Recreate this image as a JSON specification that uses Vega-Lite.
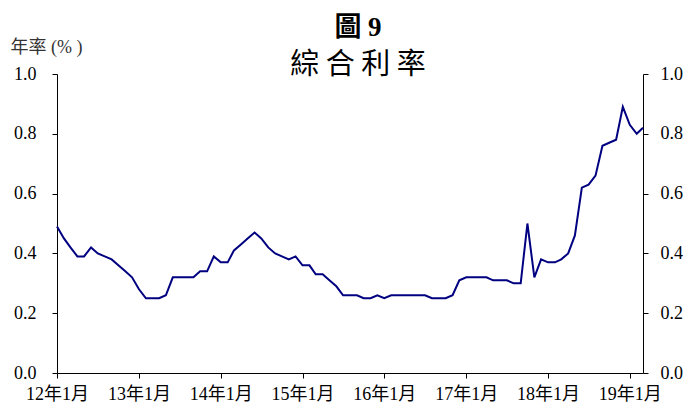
{
  "$schema": "https://vega.github.io/schema/vega-lite/v6.json",
  "width": 586,
  "height": 299,
  "autosize": {"type": "none"},
  "padding": {"left": 57, "top": 74, "right": 47, "bottom": 35},
  "background": "white",
  "title": {
    "text": "圖 9",
    "subtitle": "綜 合 利 率",
    "anchor": "middle",
    "dx": 8,
    "dy": 35,
    "offset": -8,
    "font": "Liberation Serif, Noto Sans CJK TC",
    "fontSize": 27,
    "fontWeight": "bold",
    "color": "black",
    "subtitleFont": "Noto Sans CJK TC",
    "subtitleFontSize": 29,
    "subtitleFontWeight": "normal",
    "subtitleColor": "black",
    "subtitlePadding": 9
  },
  "data": {
    "values": [
      {"d": "2012-01-01", "v": 0.49}, {"d": "2012-02-01", "v": 0.45}, {"d": "2012-03-01", "v": 0.42}, {"d": "2012-04-01", "v": 0.39},
      {"d": "2012-05-01", "v": 0.39}, {"d": "2012-06-01", "v": 0.42}, {"d": "2012-07-01", "v": 0.40}, {"d": "2012-08-01", "v": 0.39},
      {"d": "2012-09-01", "v": 0.38}, {"d": "2012-10-01", "v": 0.36}, {"d": "2012-11-01", "v": 0.34}, {"d": "2012-12-01", "v": 0.32},
      {"d": "2013-01-01", "v": 0.28}, {"d": "2013-02-01", "v": 0.25}, {"d": "2013-03-01", "v": 0.25}, {"d": "2013-04-01", "v": 0.25},
      {"d": "2013-05-01", "v": 0.26}, {"d": "2013-06-01", "v": 0.32}, {"d": "2013-07-01", "v": 0.32}, {"d": "2013-08-01", "v": 0.32},
      {"d": "2013-09-01", "v": 0.32}, {"d": "2013-10-01", "v": 0.34}, {"d": "2013-11-01", "v": 0.34}, {"d": "2013-12-01", "v": 0.39},
      {"d": "2014-01-01", "v": 0.37}, {"d": "2014-02-01", "v": 0.37}, {"d": "2014-03-01", "v": 0.41}, {"d": "2014-04-01", "v": 0.43},
      {"d": "2014-05-01", "v": 0.45}, {"d": "2014-06-01", "v": 0.47}, {"d": "2014-07-01", "v": 0.45}, {"d": "2014-08-01", "v": 0.42},
      {"d": "2014-09-01", "v": 0.40}, {"d": "2014-10-01", "v": 0.39}, {"d": "2014-11-01", "v": 0.38}, {"d": "2014-12-01", "v": 0.39},
      {"d": "2015-01-01", "v": 0.36}, {"d": "2015-02-01", "v": 0.36}, {"d": "2015-03-01", "v": 0.33}, {"d": "2015-04-01", "v": 0.33},
      {"d": "2015-05-01", "v": 0.31}, {"d": "2015-06-01", "v": 0.29}, {"d": "2015-07-01", "v": 0.26}, {"d": "2015-08-01", "v": 0.26},
      {"d": "2015-09-01", "v": 0.26}, {"d": "2015-10-01", "v": 0.25}, {"d": "2015-11-01", "v": 0.25}, {"d": "2015-12-01", "v": 0.26},
      {"d": "2016-01-01", "v": 0.25}, {"d": "2016-02-01", "v": 0.26}, {"d": "2016-03-01", "v": 0.26}, {"d": "2016-04-01", "v": 0.26},
      {"d": "2016-05-01", "v": 0.26}, {"d": "2016-06-01", "v": 0.26}, {"d": "2016-07-01", "v": 0.26}, {"d": "2016-08-01", "v": 0.25},
      {"d": "2016-09-01", "v": 0.25}, {"d": "2016-10-01", "v": 0.25}, {"d": "2016-11-01", "v": 0.26}, {"d": "2016-12-01", "v": 0.31},
      {"d": "2017-01-01", "v": 0.32}, {"d": "2017-02-01", "v": 0.32}, {"d": "2017-03-01", "v": 0.32}, {"d": "2017-04-01", "v": 0.32},
      {"d": "2017-05-01", "v": 0.31}, {"d": "2017-06-01", "v": 0.31}, {"d": "2017-07-01", "v": 0.31}, {"d": "2017-08-01", "v": 0.30},
      {"d": "2017-09-01", "v": 0.30}, {"d": "2017-10-01", "v": 0.50}, {"d": "2017-11-01", "v": 0.32}, {"d": "2017-12-01", "v": 0.38},
      {"d": "2018-01-01", "v": 0.37}, {"d": "2018-02-01", "v": 0.37}, {"d": "2018-03-01", "v": 0.38}, {"d": "2018-04-01", "v": 0.40},
      {"d": "2018-05-01", "v": 0.46}, {"d": "2018-06-01", "v": 0.62}, {"d": "2018-07-01", "v": 0.63}, {"d": "2018-08-01", "v": 0.66},
      {"d": "2018-09-01", "v": 0.76}, {"d": "2018-10-01", "v": 0.77}, {"d": "2018-11-01", "v": 0.78}, {"d": "2018-12-01", "v": 0.89},
      {"d": "2019-01-01", "v": 0.83}, {"d": "2019-02-01", "v": 0.80}, {"d": "2019-03-01", "v": 0.82}
    ]
  },
  "encoding": {
    "x": {
      "field": "d",
      "type": "temporal",
      "scale": {"type": "utc", "domain": ["2012-01-01", "2019-03-01"], "nice": false},
      "axis": {
        "title": null,
        "grid": false,
        "tickCount": {"interval": "year", "step": 1},
        "labelExpr": "utcFormat(datum.value, '%y') + '年1月'",
        "labelFlush": false,
        "labelOverlap": false,
        "tickSize": 5,
        "labelPadding": 7
      }
    }
  },
  "layer": [
    {
      "mark": {"type": "line", "color": "#000080", "strokeWidth": 2},
      "encoding": {
        "y": {
          "field": "v",
          "type": "quantitative",
          "scale": {"domain": [0, 1], "nice": false},
          "axis": {
            "orient": "left",
            "values": [0, 0.2, 0.4, 0.6, 0.8, 1.0],
            "format": ".1f",
            "grid": false,
            "tickSize": 5,
            "labelPadding": 16,
            "title": "年率 (% )",
            "titleAngle": 0,
            "titleAlign": "left",
            "titleBaseline": "alphabetic",
            "titleX": -47,
            "titleY": -22,
            "titleFont": "Liberation Serif, Noto Sans CJK TC",
            "titleFontSize": 18,
            "titleFontWeight": "normal",
            "titleColor": "#333333"
          }
        }
      }
    },
    {
      "mark": {"type": "line", "strokeOpacity": 0},
      "encoding": {
        "y": {
          "field": "v",
          "type": "quantitative",
          "axis": {
            "orient": "right",
            "values": [0, 0.2, 0.4, 0.6, 0.8, 1.0],
            "format": ".1f",
            "grid": false,
            "tickSize": 5,
            "labelPadding": 12,
            "title": null
          }
        }
      }
    }
  ],
  "resolve": {"axis": {"y": "independent"}},
  "config": {
    "view": {"stroke": null},
    "axis": {
      "domainColor": "black",
      "tickColor": "black",
      "labelColor": "black",
      "labelFont": "Liberation Serif, Noto Sans CJK TC",
      "labelFontSize": 18,
      "domainWidth": 1,
      "tickWidth": 1
    }
  }
}
